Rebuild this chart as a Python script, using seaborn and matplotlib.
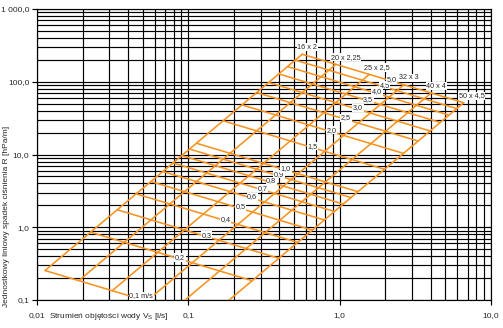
import numpy as np
import pandas as pd
import matplotlib
matplotlib.use("Agg")
import matplotlib.pyplot as plt
from matplotlib.ticker import LogLocator, NullFormatter
import seaborn as sns

# ---------------- data ----------------
velocities = [0.1, 0.2, 0.3, 0.4, 0.5, 0.6, 0.7, 0.8, 0.9, 1.0,
              1.5, 2.0, 2.5, 3.0, 3.5, 4.0, 4.5, 5.0]
velocity_labels = ["0,1 m/s", "0,2", "0,3", "0,4", "0,5", "0,6", "0,7", "0,8", "0,9",
                   "1,0", "1,5", "2,0", "2,5", "3,0", "3,5", "4,0", "4,5", "5,0"]
pipes = ["16 x 2", "20 x 2,25", "25 x 2,5", "32 x 3", "40 x 4", "50 x 4,5"]

# flow V [l/s] of each pipe at each velocity
flow_16 = [0.0113, 0.0226, 0.0339, 0.0452, 0.0566, 0.0679, 0.0792, 0.0905, 0.1018,
           0.1131, 0.1697, 0.2262, 0.2828, 0.3393, 0.3959, 0.4524, 0.5090, 0.5655]
flow_20 = [0.0189, 0.0377, 0.0566, 0.0755, 0.0943, 0.1132, 0.1321, 0.1510, 0.1698,
           0.1887, 0.2830, 0.3774, 0.4717, 0.5661, 0.6604, 0.7548, 0.8491, 0.9435]
flow_25 = [0.0314, 0.0628, 0.0942, 0.1257, 0.1571, 0.1885, 0.2199, 0.2513, 0.2827,
           0.3142, 0.4712, 0.6283, 0.7854, 0.9425, 1.0996, 1.2566, 1.4137, 1.5708]
flow_32 = [0.0531, 0.1062, 0.1593, 0.2124, 0.2655, 0.3186, 0.3717, 0.4247, 0.4778,
           0.5309, 0.7964, 1.0619, 1.3273, 1.5928, 1.8583, 2.1237, 2.3892, 2.6547]
flow_40 = [0.0804, 0.1609, 0.2413, 0.3217, 0.4021, 0.4826, 0.5630, 0.6434, 0.7238,
           0.8043, 1.2064, 1.6085, 2.0106, 2.4128, 2.8149, 3.2170, 3.6191, 4.0212]
flow_50 = [0.1320, 0.2641, 0.3961, 0.5281, 0.6601, 0.7922, 0.9242, 1.0562, 1.1882,
           1.3203, 1.9804, 2.6405, 3.3006, 3.9608, 4.6209, 5.2810, 5.9411, 6.6013]

# pressure drop R [hPa/m] of each pipe at each velocity
drop_16 = [0.254, 0.855, 1.739, 2.876, 4.249, 5.848, 7.656, 9.674, 11.89,
           14.30, 29.07, 48.08, 71.06, 97.77, 128.1, 161.7, 198.7, 239.0]
drop_20 = [0.1845, 0.6209, 1.263, 2.089, 3.086, 4.247, 5.560, 7.025, 8.635,
           10.38, 21.11, 34.92, 51.60, 71.00, 93.03, 117.4, 144.3, 173.6]
drop_25 = [0.1342, 0.4516, 0.9185, 1.519, 2.244, 3.089, 4.044, 5.110, 6.280,
           7.553, 15.35, 25.40, 37.53, 51.64, 67.66, 85.41, 104.95, 126.2]
drop_32 = [0.0966, 0.3252, 0.6615, 1.094, 1.616, 2.225, 2.912, 3.680, 4.523,
           5.440, 11.06, 18.29, 27.03, 37.19, 48.73, 61.51, 75.59, 90.92]
drop_40 = [0.0745, 0.2509, 0.5102, 0.8438, 1.247, 1.716, 2.246, 2.838, 3.489,
           4.196, 8.529, 14.11, 20.85, 28.69, 37.58, 47.44, 58.30, 70.12]
drop_50 = [0.0547, 0.1841, 0.3744, 0.6192, 0.9148, 1.259, 1.648, 2.083, 2.560,
           3.079, 6.259, 10.35, 15.30, 21.05, 27.58, 34.81, 42.78, 51.46]

flows = [flow_16, flow_20, flow_25, flow_32, flow_40, flow_50]
drops = [drop_16, drop_20, drop_25, drop_32, drop_40, drop_50]

x_ticks = [0.01, 0.1, 1.0, 10.0]
x_tick_labels = ["0,01", "0,1", "1,0", "10,0"]
y_ticks = [0.1, 1.0, 10.0, 100.0, 1000.0]
y_tick_labels = ["0,1", "1,0", "10,0", "100,0", "1 000,0"]

# ---------------- build long table ----------------
rows = []
for p, fl, dr in zip(pipes, flows, drops):
    for v, q, r in zip(velocities, fl, dr):
        rows.append({"pipe": p, "velocity": v, "V": q, "R": r})
df = pd.DataFrame(rows)

# ---------------- style ----------------
sns.set_style("ticks")
plt.rcParams["font.family"] = ["Liberation Sans", "DejaVu Sans"]
plt.rcParams["mathtext.fontset"] = "custom"
plt.rcParams["mathtext.rm"] = "Liberation Sans"
plt.rcParams["mathtext.it"] = "Liberation Sans:italic"

ORANGE = "#F7931E"

fig = plt.figure(figsize=(5.03, 3.28), dpi=100)
ax = fig.add_axes([37 / 503, 1 - 300 / 328, 454 / 503, 291 / 328])

# pipe lines (constant diameter)
sns.lineplot(data=df, x="V", y="R", units="pipe", estimator=None, sort=False,
             color=ORANGE, linewidth=1.15, ax=ax, legend=False, zorder=3)
# velocity lines (constant velocity)
sns.lineplot(data=df, x="V", y="R", units="velocity", estimator=None, sort=False,
             color=ORANGE, linewidth=1.15, ax=ax, legend=False, zorder=3)

ax.set_xscale("log")
ax.set_yscale("log")
ax.set_xlim(0.01, 10.0)
ax.set_ylim(0.1, 1000.0)

ax.xaxis.set_minor_locator(LogLocator(base=10, subs=np.arange(2, 10)))
ax.yaxis.set_minor_locator(LogLocator(base=10, subs=np.arange(2, 10)))
ax.xaxis.set_minor_formatter(NullFormatter())
ax.yaxis.set_minor_formatter(NullFormatter())
ax.set_xticks(x_ticks, x_tick_labels)
ax.set_yticks(y_ticks, y_tick_labels)
ax.grid(which="both", color="black", linewidth=0.85, zorder=1)
ax.set_axisbelow(True)
ax.tick_params(which="major", direction="out", length=3.5, width=0.85,
               color="black", labelsize=6, pad=2)
ax.tick_params(axis="x", which="major", pad=5)
ax.tick_params(which="minor", length=0)
for s in ax.spines.values():
    s.set_color("black")
    s.set_linewidth(0.85)
ax.set_xlabel("")
ax.set_ylabel("")

bbox = dict(facecolor="white", edgecolor="none", pad=0.4)

# pipe labels near top end of each pipe line
for p, fl, dr in zip(pipes, flows, drops):
    ax.annotate(p, xy=(fl[-1], dr[-1]), xytext=(-3.5, 5), textcoords="offset points",
                ha="left", va="center", fontsize=5.2, bbox=bbox, zorder=5)

# velocity labels on each velocity line, between 25x2,5 and 32x3 pipes
for i, lab in enumerate(velocity_labels):
    xa, ya = flow_25[i], drop_25[i]
    xb, yb = flow_32[i], drop_32[i]
    xm = np.sqrt(xa * xb)
    ym = np.sqrt(ya * yb)
    ax.text(xm, ym, lab, ha="left", va="center", fontsize=5.2, bbox=bbox, zorder=5)

fig.text(49 / 503, 1 - 316 / 328, r"Strumień objętości wody V$_\mathrm{S}$ [l/s]",
         ha="left", va="center", fontsize=6)
fig.text(6.5 / 503, 1 - 307 / 328, "Jednostkowy liniowy spadek ciśnienia R [hPa/m]",
         rotation=90, ha="center", va="bottom", fontsize=6)

fig.savefig("out.png", dpi=100)
